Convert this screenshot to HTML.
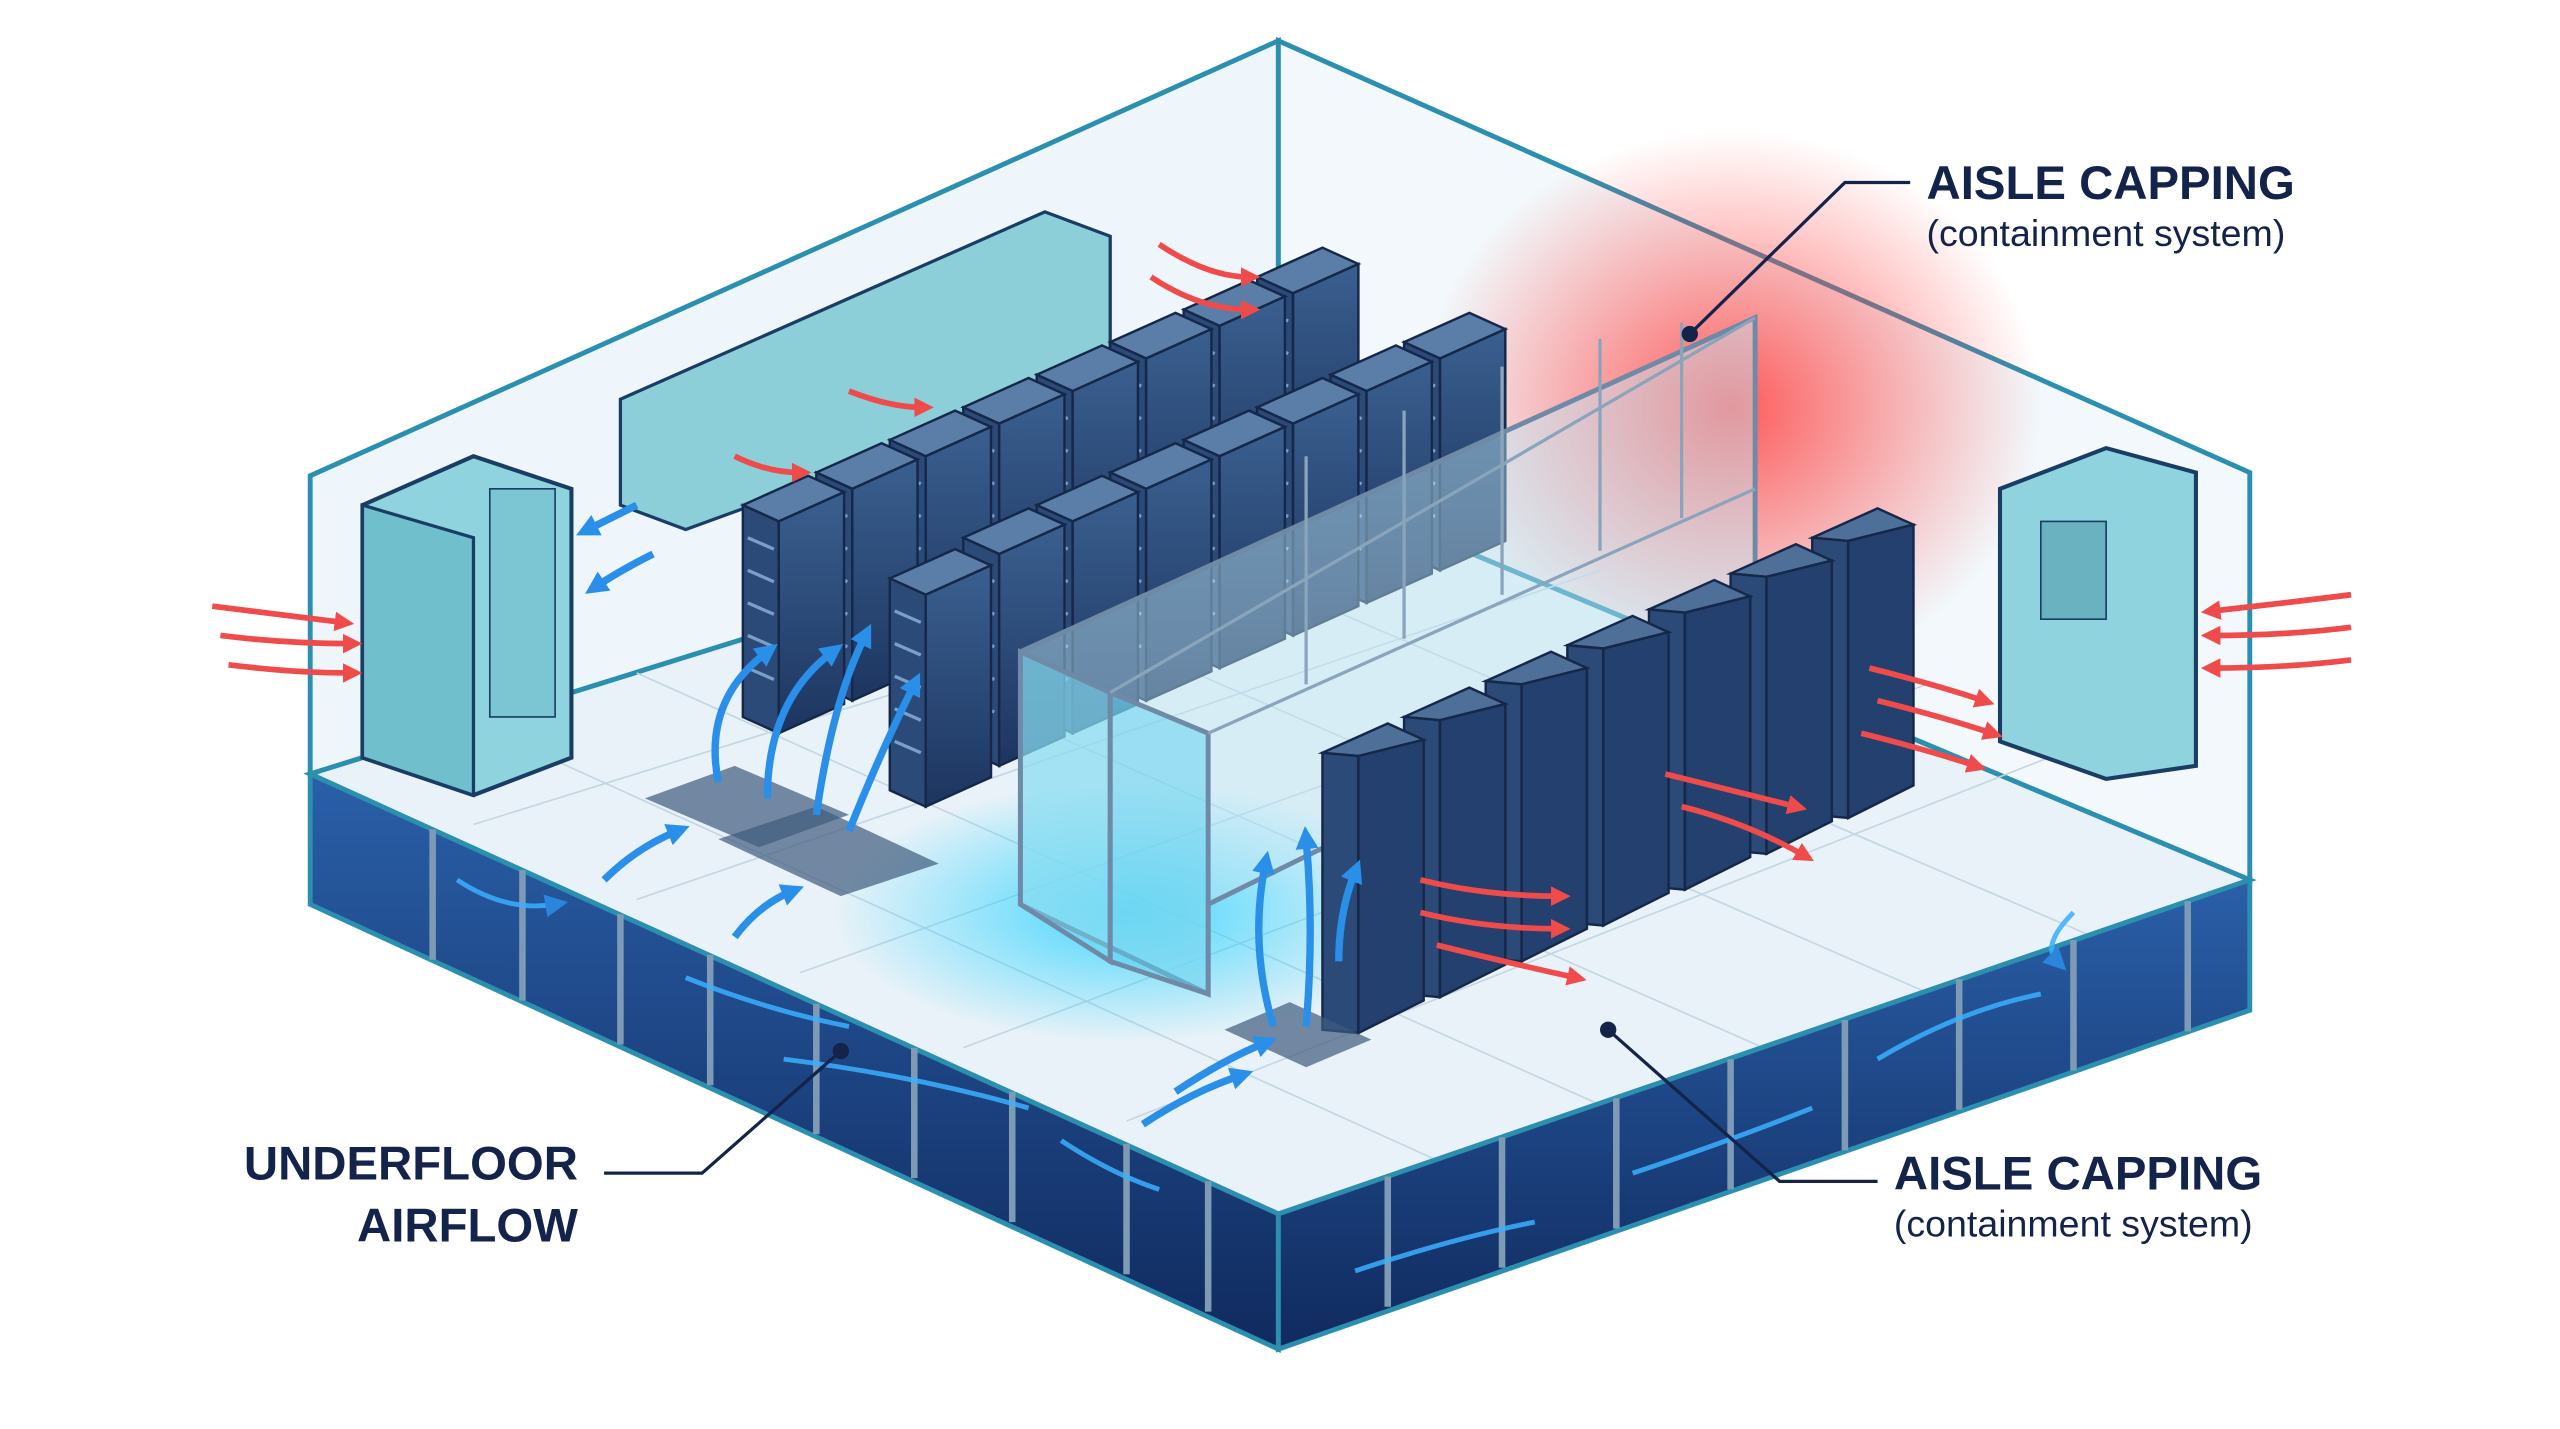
<!DOCTYPE html>
<html><head><meta charset="utf-8"><style>
html,body{margin:0;padding:0;background:#fff;width:2560px;height:1429px;overflow:hidden}
svg{display:block}
text{font-family:"Liberation Sans",sans-serif;fill:#14234a}
</style></head><body>
<svg width="2560" height="1429" viewBox="0 0 1568 877" preserveAspectRatio="none" xmlns="http://www.w3.org/2000/svg">
<defs>
<radialGradient id="red" cx="0.5" cy="0.5" r="0.5"><stop offset="0" stop-color="#ff3d3d" stop-opacity="0.85"/><stop offset="1" stop-color="#ff4a4a" stop-opacity="0"/></radialGradient>
<radialGradient id="cyan" cx="0.5" cy="0.5" r="0.5"><stop offset="0" stop-color="#1fd0ff" stop-opacity="0.8"/><stop offset="1" stop-color="#1fd0ff" stop-opacity="0"/></radialGradient>
<linearGradient id="slab" x1="0" y1="0" x2="0" y2="1"><stop offset="0" stop-color="#2a5fa8"/><stop offset="1" stop-color="#102a5e"/></linearGradient>
<linearGradient id="rackf" x1="0" y1="0" x2="0" y2="1"><stop offset="0" stop-color="#3a5f8f"/><stop offset="1" stop-color="#1d3560"/></linearGradient>
<g id="rack">
 <polygon points="0,0 22,10 62,-8 40,-18" fill="#5a7ea8" stroke="#15284a" stroke-width="1.5"/>
 <polygon points="0,0 22,10 22,140 0,130" fill="#2b4a78" stroke="#15284a" stroke-width="1.5"/>
 <polygon points="22,10 62,-8 62,122 22,140" fill="url(#rackf)" stroke="#15284a" stroke-width="1.5"/>
 <path d="M3,20 L19,27 M3,40 L19,47 M3,60 L19,67 M3,80 L19,87 M3,100 L19,107" stroke="#7aa0c8" stroke-width="2"/>
</g>
<g id="rack2">
 <polygon points="0,0 40,-18 62,-8 22,2" fill="#4d6f98" stroke="#15284a" stroke-width="1.5"/>
 <polygon points="0,0 22,2 22,172 0,170" fill="#2b4a78" stroke="#15284a" stroke-width="1.5"/>
 <polygon points="22,2 62,-8 62,152 22,172" fill="#23406e" stroke="#15284a" stroke-width="1.5"/>
</g>
<marker id="ab" markerUnits="userSpaceOnUse" markerWidth="14" markerHeight="14" refX="6" refY="7" orient="auto"><path d="M0,0 L14,7 L0,14z" fill="#2a8fe8"/></marker>
<marker id="ar" markerUnits="userSpaceOnUse" markerWidth="12" markerHeight="12" refX="5" refY="6" orient="auto"><path d="M0,0 L12,6 L0,12z" fill="#ef4b4b"/></marker>
</defs>
<!-- walls -->
<polygon points="190,292 783,25 783,290 190,475" fill="#eef6fb" stroke="#2b8fb0" stroke-width="3"/>
<polygon points="783,25 1378,290 1378,540 783,290" fill="#f2f8fb" stroke="#2b8fb0" stroke-width="3"/>
<ellipse cx="1060" cy="250" rx="190" ry="170" fill="url(#red)"/>
<!-- floor -->
<polygon points="190,475 783,290 1378,540 783,745" fill="#e9f2f8" stroke="#2b8fb0" stroke-width="3"/>
<g stroke="#c3d6e3" stroke-width="1">
<path d="M290,444 L880,712 M390,413 L980,678 M490,382 L1080,643 M590,351 L1180,609 M690,320 L1280,574 M290,506 L880,322 M390,552 L980,350 M490,597 L1080,385 M590,643 L1180,420 M690,688 L1280,455"/>
</g>
<ellipse cx="690" cy="560" rx="180" ry="80" fill="url(#cyan)"/>
<!-- slab -->
<polygon points="190,475 783,745 783,828 190,555" fill="url(#slab)" stroke="#2b8fb0" stroke-width="3"/>
<polygon points="783,745 1378,540 1378,620 783,828" fill="url(#slab)" stroke="#2b8fb0" stroke-width="3"/>
<g stroke="#7e9bb5" stroke-width="4">
<path d="M265,509 v80 M320,534 v80 M380,561 v80 M435,586 v80 M500,616 v80 M560,643 v80 M620,670 v80 M690,702 v80 M740,725 v80 M850,722 v80 M920,698 v80 M990,674 v80 M1060,650 v80 M1130,626 v80 M1200,601 v80 M1270,577 v80 M1340,553 v80"/>
</g>
<g fill="none" stroke="#3ab0ff" stroke-width="3" opacity="0.85">
<path d="M280,540 q30,20 60,15" marker-end="url(#ab)"/><path d="M420,600 q50,20 100,30"/><path d="M480,650 q80,10 150,30"/>
<path d="M650,700 q30,20 60,30"/><path d="M830,780 q60,-20 110,-30"/><path d="M1000,720 q60,-20 110,-40"/><path d="M1150,650 q50,-30 100,-40"/><path d="M1270,560 q-20,20 -10,30" marker-end="url(#ab)"/>
</g>
<!-- CRAC units -->
<polygon points="222,310 290,280 350,300 350,465 290,488 222,465" fill="#8fd3de" stroke="#1a3d66" stroke-width="2.5"/>
<polygon points="222,310 290,330 290,488 222,465" fill="#6fbfcd" stroke="#1a3d66" stroke-width="2"/>
<rect x="300" y="300" width="40" height="140" fill="#7cc6d4" stroke="#1a3d66"/>
<polygon points="1225,300 1290,275 1345,290 1345,470 1290,478 1225,455" fill="#8fd3de" stroke="#1a3d66" stroke-width="2.5"/>
<rect x="1250" y="320" width="40" height="60" fill="#6ab2c0" stroke="#1a3d66"/>
<!-- back CRAC row -->
<polygon points="380,245 640,130 680,145 680,230 420,325 380,310" fill="#8ccfd9" stroke="#1a3d66" stroke-width="2"/>
<!-- racks back rows -->
<g>
<use href="#rack" x="770" y="170"/><use href="#rack" x="725" y="190"/><use href="#rack" x="680" y="210"/><use href="#rack" x="635" y="230"/><use href="#rack" x="590" y="250"/><use href="#rack" x="545" y="270"/><use href="#rack" x="500" y="290"/><use href="#rack" x="455" y="310"/>
<use href="#rack" x="860" y="210"/><use href="#rack" x="815" y="230"/><use href="#rack" x="770" y="250"/><use href="#rack" x="725" y="270"/><use href="#rack" x="680" y="290"/><use href="#rack" x="635" y="310"/><use href="#rack" x="590" y="330"/><use href="#rack" x="545" y="355"/>
</g>
<!-- glass containment -->
<polygon points="625,400 1075,195 1075,390 740,555 740,610 625,555" fill="#bfe6f5" fill-opacity="0.45" stroke="#6e8aa6" stroke-width="3"/>
<polygon points="625,400 680,425 680,590 625,555" fill="#6fd7f0" fill-opacity="0.5" stroke="#6e8aa6" stroke-width="3"/>
<polygon points="680,425 740,450 740,610 680,590" fill="#5cd0ee" fill-opacity="0.5" stroke="#6e8aa6" stroke-width="3"/>
<path d="M740,450 L1075,300 M680,425 L1075,195 M800,420 v-140 M860,392 v-140 M920,365 v-140 M980,338 v-130 M1030,318 v-120" stroke="#8aa4bc" stroke-width="2" fill="none"/>
<!-- front right row -->
<g>
<use href="#rack2" x="1110" y="330"/><use href="#rack2" x="1060" y="352"/><use href="#rack2" x="1010" y="374"/><use href="#rack2" x="960" y="396"/><use href="#rack2" x="910" y="418"/><use href="#rack2" x="860" y="440"/><use href="#rack2" x="810" y="462"/>
</g>
<!-- perforated tiles -->
<polygon points="395,490 450,470 520,500 465,520" fill="#3f5b7e" opacity="0.7"/><polygon points="440,515 500,495 575,530 515,550" fill="#3f5b7e" opacity="0.7"/>
<polygon points="750,632 790,615 840,638 800,655" fill="#3f5b7e" opacity="0.7"/>
<!-- blue arrows -->
<g fill="none" stroke="#2a8fe8" stroke-width="4.5" marker-end="url(#ab)">
<path d="M440,480 q-10,-50 30,-80"/><path d="M470,490 q0,-60 40,-90"/><path d="M500,500 q10,-70 30,-110"/><path d="M520,510 q20,-50 40,-90"/>
<path d="M370,540 q20,-20 45,-30"/><path d="M450,575 q15,-20 35,-28"/><path d="M700,690 q30,-20 60,-30"/><path d="M720,670 q30,-20 55,-30"/>
<path d="M780,630 q-15,-50 -5,-100"/><path d="M800,630 q5,-60 0,-115"/><path d="M820,590 q0,-30 10,-55"/>
<path d="M390,310 q-20,10 -30,15"/><path d="M400,340 q-20,10 -35,20"/>
</g>
<!-- red waves -->
<g fill="none" stroke="#ef4b4b" stroke-width="3.5" marker-end="url(#ar)">
<path d="M130,372 q40,5 80,10"/><path d="M135,390 q40,5 80,5"/><path d="M140,408 q40,5 75,5"/>
<path d="M1440,365 q-40,5 -85,10"/><path d="M1440,385 q-40,5 -85,5"/><path d="M1440,405 q-40,5 -85,5"/>
<path d="M870,540 q40,10 85,10"/><path d="M870,560 q40,10 85,10"/><path d="M880,580 q40,10 85,20"/>
<path d="M1020,475 q40,10 80,20"/><path d="M1030,495 q40,10 75,30"/><path d="M1145,410 q40,10 70,20"/><path d="M1150,430 q40,10 70,20"/><path d="M1140,450 q40,10 70,20"/>
<path d="M710,150 q30,20 55,20"/><path d="M705,170 q30,20 60,20"/><path d="M520,240 q25,10 45,10"/><path d="M450,280 q20,10 40,10"/>
</g>
<!-- labels -->
<path d="M1035,205 L1130,112 L1170,112" stroke="#14234a" stroke-width="2" fill="none"/><circle cx="1035" cy="205" r="5" fill="#14234a"/>
<text x="1180" y="122" font-size="29" font-weight="bold">AISLE CAPPING</text>
<text x="1180" y="151" font-size="23">(containment system)</text>
<path d="M985,632 L1090,725 L1150,725" stroke="#14234a" stroke-width="2" fill="none"/><circle cx="985" cy="632" r="5" fill="#14234a"/>
<text x="1160" y="730" font-size="29" font-weight="bold">AISLE CAPPING</text>
<text x="1160" y="759" font-size="23">(containment system)</text>
<path d="M515,645 L430,720 L370,720" stroke="#14234a" stroke-width="2" fill="none"/><circle cx="515" cy="645" r="5" fill="#14234a"/>
<text x="354" y="724" font-size="29" font-weight="bold" text-anchor="end">UNDERFLOOR</text>
<text x="354" y="762" font-size="29" font-weight="bold" text-anchor="end">AIRFLOW</text>
</svg>
</body></html>
